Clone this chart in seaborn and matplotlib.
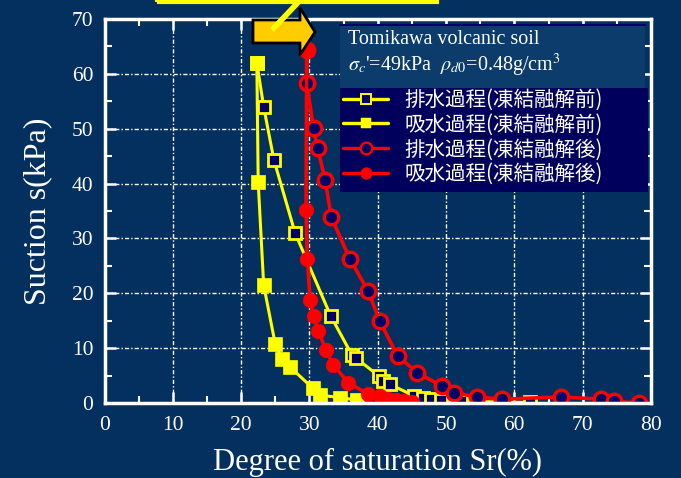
import matplotlib
matplotlib.use("Agg")
import matplotlib.pyplot as plt
import seaborn as sns
import pandas as pd
from matplotlib.patches import Rectangle, Polygon
from matplotlib.lines import Line2D
from matplotlib.ticker import MultipleLocator

# ---------------- data ----------------
sr_drain_before = [22.3, 23.3, 24.8, 27.9, 33.1, 36.2, 36.8, 40.2, 40.8, 41.8, 45.3, 46.6, 47.8, 49.2, 52.2, 62.3]
s_drain_before = [62.0, 54.0, 44.3, 31.0, 15.9, 8.8, 8.2, 4.9, 4.1, 3.4, 1.3, 1.0, 0.7, 0.5, 0.3, 0.1]

sr_absorb_before = [22.3, 22.5, 23.3, 25.0, 26.0, 27.2, 30.5, 31.6, 34.5, 37.0]
s_absorb_before = [62.0, 40.2, 21.5, 10.7, 8.0, 6.5, 2.7, 1.4, 1.0, 0.5]

sr_drain_after = [29.6, 29.6, 30.6, 31.2, 32.3, 33.2, 35.9, 38.6, 40.3, 42.9, 45.8, 49.4, 51.2, 54.5, 58.2, 66.8, 72.7, 74.6, 78.2]
s_drain_after = [64.3, 58.3, 50.1, 46.5, 40.6, 33.9, 26.3, 20.4, 14.9, 8.6, 5.5, 3.1, 1.9, 1.1, 0.7, 1.1, 0.7, 0.3, 0.0]

sr_absorb_after = [29.6, 29.5, 29.7, 30.1, 30.6, 31.3, 32.4, 33.5, 35.7, 38.6, 40.3, 41.5, 42.6, 43.8, 45.0]
s_absorb_after = [64.3, 35.2, 26.3, 18.8, 15.9, 13.2, 9.7, 6.9, 3.7, 1.6, 1.2, 0.8, 0.5, 0.3, 0.1]

series_labels = ["排水過程(凍結融解前)", "吸水過程(凍結融解前)",
                 "排水過程(凍結融解後)", "吸水過程(凍結融解後)"]
x_ticks = [0, 10, 20, 30, 40, 50, 60, 70, 80]
y_ticks = [0, 10, 20, 30, 40, 50, 60, 70]
x_label = "Degree of saturation Sr(%)"
y_label = "Suction s(kPa)"
box_line1 = "Tomikawa volcanic soil"
box_line2 = r"$\sigma_c$'=49kPa  $\rho_{d0}$=0.48g/cm$^3$"

# ---------------- style ----------------
sns.set_style("ticks")
plt.rcParams["mathtext.fontset"] = "stix"
plt.rcParams["font.family"] = ["Liberation Serif", "DejaVu Serif"]

W, H = 681, 478
BG = "#03305e"
NAVY = "#000066"
YEL = "#ffff00"
RED = "#ff0000"

def fx(px):
    return px / W

def fy(py):
    return 1 - py / H

fig = plt.figure(figsize=(W / 100, H / 100), dpi=100)
fig.patch.set_facecolor(BG)
ax = fig.add_axes([fx(104.5), fy(403), 546.5 / W, 384 / H])
ax.set_facecolor(BG)

specs = [
    (sr_drain_before, s_drain_before, dict(color=YEL, marker="s", markersize=8.5,
                                          markerfacecolor=NAVY, markeredgecolor=YEL,
                                          markeredgewidth=2.0, linewidth=2.2)),
    (sr_absorb_before, s_absorb_before, dict(color=YEL, marker="s", markersize=9.5,
                                            markerfacecolor=YEL, markeredgecolor=YEL,
                                            markeredgewidth=0.5, linewidth=2.2)),
    (sr_drain_after, s_drain_after, dict(color=RED, marker="o", markersize=10.5,
                                        markerfacecolor=NAVY, markeredgecolor=RED,
                                        markeredgewidth=2.4, linewidth=2.6)),
    (sr_absorb_after, s_absorb_after, dict(color=RED, marker="o", markersize=10.5,
                                          markerfacecolor=RED, markeredgecolor=RED,
                                          markeredgewidth=0.5, linewidth=2.6)),
]

handles = []
for (xs, ys, kw), lab in zip(specs, series_labels):
    df = pd.DataFrame({"Sr": xs, "s": ys})
    sns.lineplot(data=df, x="Sr", y="s", sort=False, estimator=None, ax=ax,
                 legend=False, **kw)
    handles.append(Line2D([], [], label=lab, **kw))

ax.set_xlim(0, 80)
ax.set_ylim(0, 70)
ax.set_xticks(x_ticks)
ax.set_yticks(y_ticks)
ax.xaxis.set_minor_locator(MultipleLocator(5))
ax.yaxis.set_minor_locator(MultipleLocator(5))
ax.set_axisbelow(True)
ax.grid(True, which="major", color="white", linestyle=(0, (3, 1.5, 1, 1.5)), linewidth=1)
for sp in ax.spines.values():
    sp.set_color("white")
    sp.set_linewidth(2.5)
ax.tick_params(which="both", direction="in", top=True, right=True, colors="white",
               labelcolor="white", labelsize=15.5)
ax.tick_params(which="major", length=8, width=1.8)
ax.tick_params(axis="x", which="major", pad=9)
ax.tick_params(axis="y", which="major", pad=8)
ax.tick_params(which="minor", length=5, width=1.5)
ax.set_xlabel(x_label, color="white", fontsize=22, labelpad=10)
ax.set_ylabel(y_label, color="white", fontsize=23, labelpad=14)

# ---------------- info box and legend ----------------
fig.add_artist(Rectangle((fx(340), fy(88)), (645 - 340) / W, (88 - 25) / H,
                         transform=fig.transFigure, facecolor="#0b3c6b",
                         edgecolor="none", zorder=5))
fig.add_artist(Line2D([fx(340), fx(645)], [fy(24.5), fy(24.5)], transform=fig.transFigure,
                      color=NAVY, linewidth=1.5, zorder=6))
fig.add_artist(Rectangle((fx(340), fy(192)), (648 - 340) / W, (192 - 88) / H,
                         transform=fig.transFigure, facecolor="#00005c",
                         edgecolor="none", zorder=5))
fig.text(fx(348), fy(40), box_line1, color="white", fontsize=14.5, va="center",
         ha="left", zorder=7)
fig.text(fx(348), fy(65), box_line2, color="white", fontsize=14.5, va="center",
         ha="left", zorder=7)

leg_handles = []
for h in handles:
    hh = Line2D([], [], label=h.get_label(), color=h.get_color(), marker=h.get_marker(),
                markersize=h.get_markersize() * 0.8, markerfacecolor=h.get_markerfacecolor(),
                markeredgecolor=h.get_markeredgecolor(),
                markeredgewidth=h.get_markeredgewidth() * 0.7, linewidth=2.4)
    leg_handles.append(hh)
leg = fig.legend(handles=leg_handles, loc="upper left",
                 bbox_to_anchor=(fx(343), fy(89)), bbox_transform=fig.transFigure,
                 frameon=False, borderpad=0, borderaxespad=0, handlelength=2.2,
                 handletextpad=0.8, labelspacing=0.13,
                 prop={"family": ["Noto Sans CJK JP", "DejaVu Sans"], "size": 14.8})
leg.set_zorder(8)
for t in leg.get_texts():
    t.set_color("white")

# ---------------- arrow annotation ----------------
arrow_px = [(253, 20), (300, 20), (300, 8), (315, 32), (300, 55), (300, 43), (253, 43)]
fig.add_artist(Polygon([(fx(a), fy(b)) for a, b in arrow_px], closed=True,
                       transform=fig.transFigure, facecolor="#ffcc00",
                       edgecolor="black", linewidth=2, zorder=9))
fig.add_artist(Line2D([fx(272), fx(305)], [fy(30), fy(-5)], transform=fig.transFigure,
                      color=YEL, linewidth=4, zorder=10, solid_capstyle="butt"))
fig.add_artist(Rectangle((fx(157), fy(2)), (437 - 157) / W, 20 / H,
                         transform=fig.transFigure, facecolor="none",
                         edgecolor=YEL, linewidth=3, zorder=10))

fig.savefig("out.png", dpi=100, facecolor=fig.get_facecolor())
